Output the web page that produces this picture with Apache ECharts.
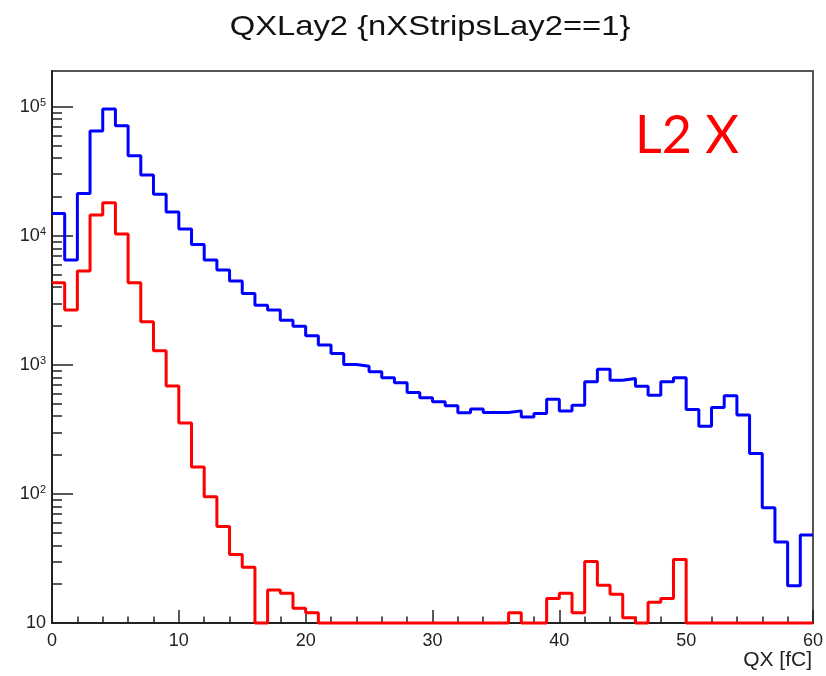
<!DOCTYPE html>
<html><head><meta charset="utf-8">
<script src="https://cdn.jsdelivr.net/npm/echarts@6/dist/echarts.min.js"></script>
<style>html,body{margin:0;padding:0;background:#fff}#c{width:826px;height:676px}</style>
</head><body><div id="c"></div>
<script>
const titleText = 'QXLay2 {nXStripsLay2==1}';
const xTitle = 'QX [fC]';
const annotation = 'L2 X';
const binEdges = [0,1,2,3,4,5,6,7,8,9,10,11,12,13,14,15,16,17,18,19,20,21,22,23,24,25,26,27,28,29,30,
  31,32,33,34,35,36,37,38,39,40,41,42,43,44,45,46,47,48,49,50,51,52,53,54,55,56,57,58,59,60];
const blueCounts = [14900,6490,21300,64900,95900,71300,41700,29600,21000,15300,
  11300,8570,6490,5420,4460,3575,2900,2655,2220,1995,
  1679,1422,1225,1007,977,883,793,725,611,555,
  517,481,425,454,428,428,440,395,420,542,
  438,487,738,926,761,785,684,582,738,793,
  451,335,467,575,408,206,78,42.5,19.4,48];
const redCounts = [4320,2655,5325,14460,18030,10310,4320,2155,1284,687,
  355,162,95,56,34,27,0,18,17,13,
  12,0,0,0,0,0,0,0,0,0,
  0,0,0,0,0,0,12,0,0,15.5,
  17,12,30,19.6,16.7,11,0,14.5,15.5,31,
  0,0,0,0,0,0,0,0,0,0];
const xTickValues = [0,10,20,30,40,50,60];
const yMajorTicks = [10,100,1000,10000,100000];
const yMinorTicks = [20,30,40,50,60,70,80,90,200,300,400,500,600,700,800,900,
  2000,3000,4000,5000,6000,7000,8000,9000,20000,30000,40000,50000,60000,70000,80000,90000];

const yMin = 10, yMax = 189000;
const FONT = '"Liberation Sans", Arial, Helvetica, sans-serif';
function stepData(counts) {
  const d = counts.map((c, i) => [binEdges[i], Math.max(c, yMin)]);
  d.push([binEdges[counts.length], Math.max(counts[counts.length - 1], yMin)]);
  return d;
}
const chart = echarts.init(document.getElementById('c'), null, {renderer: 'canvas'});
chart.setOption({
  animation: false,
  backgroundColor: '#fff',
  grid: {left: 52, right: 13, top: 71, bottom: 53, show: true, borderColor: '#555', borderWidth: 2, backgroundColor: 'transparent'},
  xAxis: {
    type: 'value', min: 0, max: 60, interval: 10,
    axisLine: {onZero: false, lineStyle: {color: '#222', width: 2}},
    axisTick: {inside: true, length: 13, lineStyle: {color: '#222', width: 1.5}},
    minorTick: {show: true, splitNumber: 5, length: 6.5, lineStyle: {color: '#222', width: 1.5}},
    splitLine: {show: false},
    axisLabel: {fontSize: 18, color: '#222', fontFamily: FONT, margin: 9, showMaxLabel: true, showMinLabel: true}
  },
  yAxis: [{
    type: 'log', logBase: 10, min: yMin, max: yMax,
    axisLine: {show: true, lineStyle: {color: '#222', width: 2}},
    axisTick: {show: true, inside: true, length: 21, customValues: yMajorTicks, lineStyle: {color: '#222', width: 1.5}},
    splitLine: {show: false},
    axisLabel: {
      customValues: yMajorTicks, margin: 6, color: '#222',
      formatter: v => { const e = Math.round(Math.log10(v)); return e === 1 ? '{b|10}' : '{b|10}{s|' + e + '}'; },
      rich: {
        b: {fontSize: 18, fontFamily: FONT, color: '#222'},
        s: {fontSize: 11, fontFamily: FONT, color: '#222', verticalAlign: 'top'}
      }
    }
  }, {
    type: 'log', logBase: 10, min: yMin, max: yMax, position: 'left',
    axisLine: {show: false},
    axisTick: {show: true, inside: true, length: 10, customValues: yMinorTicks, lineStyle: {color: '#222', width: 1.5}},
    axisLabel: {show: false},
    splitLine: {show: false}
  }],
  series: [{
    type: 'line', step: 'end', data: stepData(blueCounts), showSymbol: false, clip: false,
    lineStyle: {color: '#0000ff', width: 3}, yAxisIndex: 0, z: 3
  }, {
    type: 'line', step: 'end', data: stepData(redCounts), showSymbol: false, clip: false,
    lineStyle: {color: '#ff0000', width: 3}, yAxisIndex: 0, z: 4
  }],
  graphic: [
    {type: 'text', x: 430, y: 27, scaleX: 1.17, style: {text: titleText, fontSize: 28, fontFamily: FONT, fill: '#111', align: 'center', verticalAlign: 'middle'}},
    {type: 'text', x: 812, y: 660, style: {text: xTitle, fontSize: 21, fontFamily: FONT, fill: '#222', align: 'right', verticalAlign: 'middle'}},
    {type: 'text', x: 635, y: 136, style: {text: annotation, fontSize: 52, fontFamily: 'Lato, "Open Sans", sans-serif', fill: '#ff0000', align: 'left', verticalAlign: 'middle'}}
  ]
});
</script></body></html>
